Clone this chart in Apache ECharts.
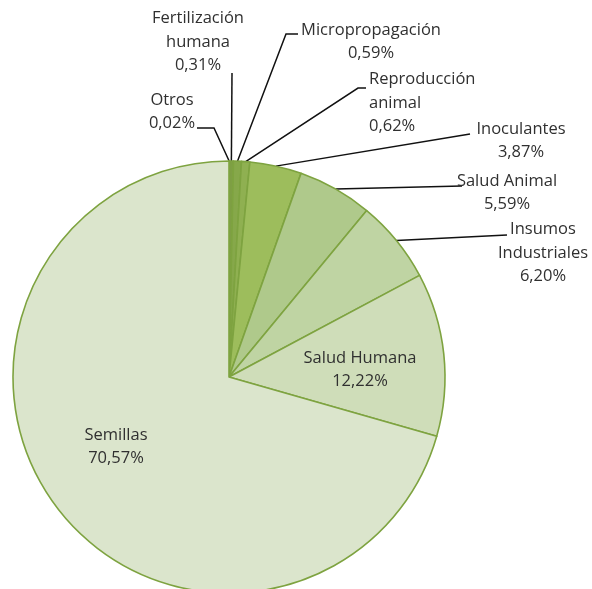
<!DOCTYPE html>
<html lang="es">
<head>
  <meta http-equiv="Content-Type" content="text/html; charset=UTF-8">
  <title>Sectores</title>
  <style>
    html, body { margin: 0; padding: 0; background: #fff; }
    #myChart { width: 592px; height: 589px; }
  </style>
</head>
<body>
  <div id="myChart"></div>
  <script src="https://cdn.jsdelivr.net/npm/echarts@6/dist/echarts.min.js"></script>
  <script>
    // datos (porcentajes)
    const categorias = ['Otros', 'Fertilización\nhumana', 'Micropropagación', 'Reproducción\nanimal',
      'Inoculantes', 'Salud Animal', 'Insumos\nIndustriales', 'Salud Humana', 'Semillas'];
    const valores = [0.02, 0.31, 0.59, 0.62, 3.87, 5.59, 6.20, 12.22, 70.57];

    const colores = ['#76953f', '#7e9f44', '#86a84a', '#8fb051', '#9dbd5c',
      '#afc98b', '#bfd4a3', '#cfddb9', '#dbe5cc'];

    // posicion de etiquetas: [x, y, align, codo, fin]
    const etiquetas = [
      [172, 112, 'center', [214, 128], [197, 128]],
      [198, 42, 'center', [232, 73], [232, 73]],
      [371, 42, 'center', [286, 34], [298, 34]],
      [369, 103, 'left', [358, 88], [366, 88]],
      [521, 141, 'center', [470, 134], [470, 134]],
      [507, 193, 'center', [462, 186], [462, 186]],
      [543, 253, 'center', [507, 235], [507, 235]],
      [360, 370, 'center', null, null],
      [116, 447, 'center', null, null]
    ];

    const myChart = echarts.init(document.getElementById('myChart'));
    const option = {
      animation: false,
      series: [{
        type: 'pie',
        center: [229, 377],
        radius: 216,
        startAngle: 90,
        clockwise: true,
        avoidLabelOverlap: false,
        itemStyle: {
          borderColor: '#7ea340',
          borderWidth: 1.6
        },
        label: {
          color: '#303030',
          fontFamily: 'Open Sans',
          fontSize: 16.5,
          lineHeight: 23.5,
          formatter: p => p.name + '\n' + p.value.toFixed(2).replace('.', ',') + '%'
        },
        labelLine: {
          show: true,
          lineStyle: { color: '#111', width: 1.5 }
        },
        labelLayout: function (params) {
          const e = etiquetas[params.dataIndex];
          const r = { x: e[0], y: e[1], align: e[2], verticalAlign: 'middle' };
          if (e[3] && params.labelLinePoints) {
            r.labelLinePoints = [params.labelLinePoints[0], e[3], e[4]];
          }
          return r;
        },
        data: categorias.map((c, i) => ({
          name: c,
          value: valores[i],
          itemStyle: { color: colores[i] },
          labelLine: { show: i < 7 }
        }))
      }]
    };
    myChart.setOption(option);
  </script>
</body>
</html>
